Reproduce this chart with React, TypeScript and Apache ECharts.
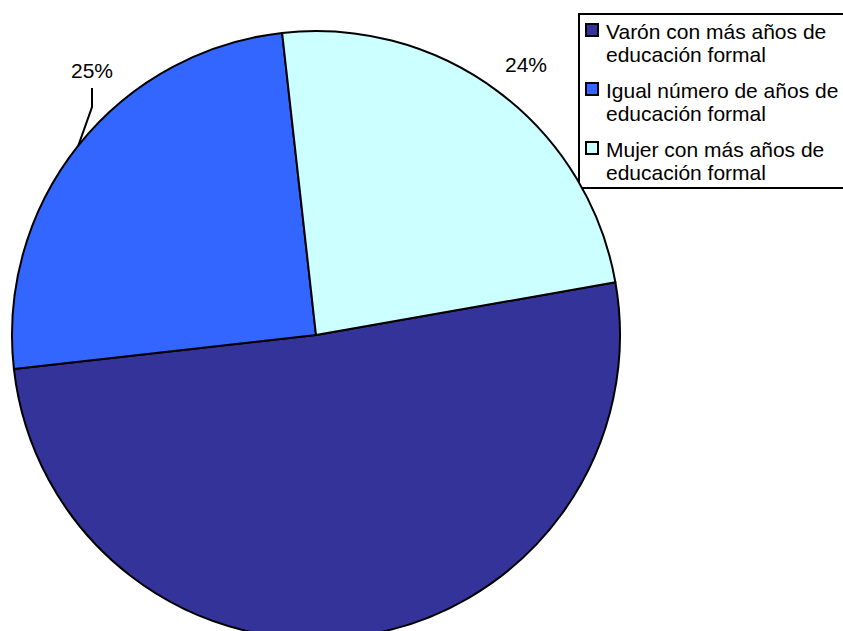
import { useEffect, useRef } from "react";
import * as echarts from "echarts";

const categories = [
  "Varón con más años de\neducación formal",
  "Igual número de años de\neducación formal",
  "Mujer con más años de\neducación formal",
];
const values = [51, 25, 24];
const colors = ["#333399", "#3366FF", "#CCFFFF"];

const FONT = '"Liberation Sans", Arial, sans-serif';

export default function App() {
  const ref = useRef<HTMLDivElement>(null);
  useEffect(() => {
    if (!ref.current) return;
    const chart = echarts.init(ref.current, null, { renderer: "svg" });

    const legendChildren: any[] = [
      {
        type: "rect",
        shape: { x: 579, y: 14, width: 280, height: 174 },
        style: { fill: "#fff", stroke: "#000", lineWidth: 2 },
      },
    ];
    categories.forEach((name, i) => {
      legendChildren.push({
        type: "group",
        x: 586,
        y: 24 + i * 59,
        children: [
          {
            type: "rect",
            shape: { x: 0, y: 0, width: 12, height: 12 },
            style: { fill: colors[i], stroke: "#000", lineWidth: 2 },
          },
          {
            type: "text",
            x: 20,
            y: -4.5,
            style: {
              text: name,
              fontSize: 21,
              fontFamily: FONT,
              lineHeight: 23,
              fill: "#000",
              verticalAlign: "top",
              align: "left",
            },
          },
        ],
      });
    });

    const labelPos: Record<number, [number, number]> = { 1: [92, 70], 2: [526, 64] };

    chart.setOption({
      animation: false,
      backgroundColor: "#fff",
      series: [
        {
          type: "pie",
          center: [316, 335],
          radius: 304,
          startAngle: 10,
          clockwise: true,
          avoidLabelOverlap: false,
          data: categories.map((name, i) => ({
            name,
            value: values[i],
            itemStyle: { color: colors[i] },
            label: { show: i !== 0 },
            labelLine: { show: i === 1 },
          })),
          itemStyle: { borderColor: "#000", borderWidth: 2 },
          emphasis: { disabled: true },
          label: {
            show: true,
            position: "outside",
            formatter: "{d}%",
            fontSize: 21,
            fontFamily: FONT,
            color: "#000",
          },
          labelLine: {
            show: true,
            length: 20,
            length2: 10,
            lineStyle: { color: "#000", width: 2 },
          },
          labelLayout: (params: any) => {
            const p = labelPos[params.dataIndex];
            if (!p) return {};
            const out: any = { x: p[0], y: p[1], align: "center", verticalAlign: "middle" };
            if (params.dataIndex === 1) {
              const edge =
                params.labelLinePoints && params.labelLinePoints[0]
                  ? params.labelLinePoints[0]
                  : [78, 147];
              out.labelLinePoints = [edge, [p[0], p[1] + 37], [p[0], p[1] + 18]];
            }
            return out;
          },
        },
      ],
      graphic: { elements: legendChildren },
    });
    return () => chart.dispose();
  }, []);
  return (
    <div
      ref={ref}
      style={{ position: "fixed", left: 0, top: 0, width: 843, height: 631 }}
    />
  );
}
